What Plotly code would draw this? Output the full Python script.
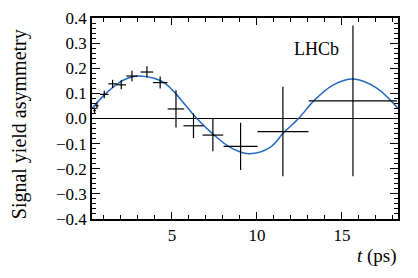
import plotly.graph_objects as go

# Data points (binned asymmetry)
t_data = [0.45, 0.59, 1.02, 1.51, 2.02, 2.65, 3.53, 4.31, 5.24, 6.27, 7.41, 9.04, 11.53, 15.65]
a_data = [0.032, 0.051, 0.096, 0.138, 0.134, 0.169, 0.185, 0.143, 0.038, -0.029, -0.066, -0.111, -0.052, 0.070]
t_err = [0.08, 0.1, 0.25, 0.25, 0.27, 0.33, 0.37, 0.43, 0.49, 0.59, 0.61, 1.0, 1.5, 2.6]
a_err = [0.012, 0.013, 0.015, 0.016, 0.018, 0.021, 0.023, 0.024, 0.074, 0.049, 0.064, 0.094, 0.178, 0.30]

# Fit curve
t_curve = [0.3, 1.06, 1.84, 2.4, 3.02, 4.0, 4.6, 5.27, 5.59, 6.47, 7.45, 8.43, 9.5, 10.78, 11.57, 12.45, 13.43, 14.5, 15.68, 17.05, 18.3]
a_curve = [0.040, 0.096, 0.140, 0.160, 0.169, 0.159, 0.140, 0.096, 0.070, 0.0, -0.064, -0.115, -0.140, -0.115, -0.057, 0.0, 0.076, 0.134, 0.157, 0.121, 0.040]

x_ticks = [5, 10, 15]

font_family = "Liberation Serif"

YOFF = 4  # extra vertical offset observed in the page
W, H = 418, 278 - YOFF
L, T = 92, 13 - YOFF
PW, PH = 306, 210
R, B = W - L - PW, H - T - PH

def px(xp):
    return (xp - L) / PW

def py(yp):
    return 1 - (yp - YOFF - T) / PH

fig = go.Figure()

fig.add_trace(go.Scatter(
    x=[0.3, 18.3], y=[0, 0], mode="lines",
    line=dict(color="black", width=1), hoverinfo="skip", showlegend=False))

fig.add_trace(go.Scatter(
    x=t_curve, y=a_curve, mode="lines",
    line=dict(color="#2468c0", width=1.5, shape="spline", smoothing=1.0),
    showlegend=False))

fig.add_trace(go.Scatter(
    x=t_data, y=a_data, mode="markers",
    marker=dict(size=0.1, color="black"),
    error_x=dict(type="data", array=t_err, color="black", thickness=1.2, width=0),
    error_y=dict(type="data", array=a_err, color="black", thickness=1.2, width=0),
    showlegend=False))

axis_common = dict(
    showline=True, linecolor="black", linewidth=1.5, mirror="ticks",
    ticks="inside", tickcolor="black", tickwidth=1.2,
    showgrid=False, zeroline=False,
    tickfont=dict(family=font_family, size=17, color="black"),
)

fig.update_layout(
    width=W, height=H,
    margin=dict(l=L, r=R, t=T, b=B),
    paper_bgcolor="white", plot_bgcolor="white",
    xaxis=dict(range=[0.3, 18.3], tickvals=x_ticks, ticklen=7,
               minor=dict(dtick=1, ticklen=4, ticks="inside", tickcolor="black", tickwidth=1),
               **axis_common),
    yaxis=dict(range=[-0.4, 0.4], dtick=0.1, ticklen=8, tickformat=".1f",
               minor=dict(dtick=0.02, ticklen=4, ticks="inside", tickcolor="black", tickwidth=1),
               **axis_common),
)

fig.add_annotation(text="LHCb", xref="paper", yref="paper", x=px(316), y=py(45),
                   showarrow=False, xanchor="center", yanchor="middle",
                   font=dict(family=font_family, size=18, color="black"))
fig.add_annotation(text="Signal yield asymmetry", xref="paper", yref="paper",
                   x=px(19), y=py(124), textangle=-90,
                   showarrow=False, xanchor="center", yanchor="middle",
                   font=dict(family=font_family, size=20, color="black"))
fig.add_annotation(text="<i>t</i> (ps)", xref="paper", yref="paper",
                   x=px(399), y=py(262), showarrow=False,
                   xanchor="right", yanchor="middle",
                   font=dict(family=font_family, size=19, color="black"))

fig.write_html("out.html", config={"displayModeBar": False},
               post_script="document.body.style.margin='0px';document.body.style.overflow='hidden';")
